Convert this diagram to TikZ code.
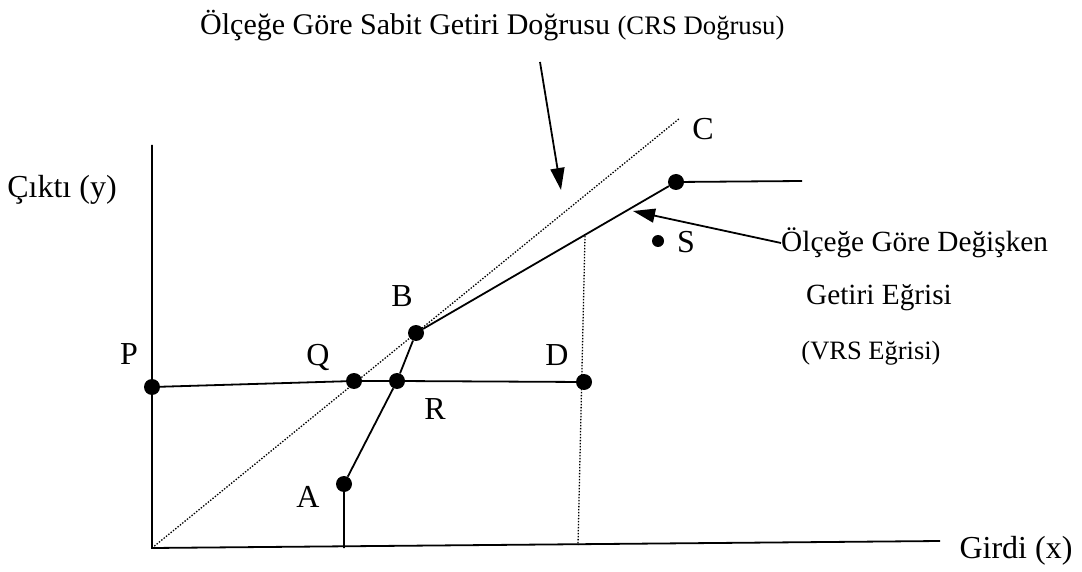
\documentclass[tikz,border=0pt]{standalone}
\usepackage{fontspec}
\setmainfont{Liberation Serif}
\usetikzlibrary{arrows.meta}
\begin{document}
\begin{tikzpicture}[x=1pt,y=-1pt,
  dot/.style={circle,fill=black,inner sep=0pt,minimum size=16pt},
  smalldot/.style={circle,fill=black,inner sep=0pt,minimum size=12pt},
  lbl/.style={inner sep=0pt,font=\fontsize{32}{38}\selectfont},
  mid/.style={inner sep=0pt,font=\fontsize{29.3}{35}\selectfont},
  small/.style={inner sep=0pt,font=\fontsize{26.5}{31}\selectfont},
  solidline/.style={line width=1.8pt},
  dotline/.style={line width=1.3pt,dash pattern=on 1.4pt off 1.6pt},
  arr/.style={line width=1.8pt,-{Triangle[length=22pt,width=14pt]}}]
\useasboundingbox (0,0) rectangle (1082,572);
% axes
\coordinate (O) at (152,548);
\coordinate (Ytop) at (152,145);
\coordinate (Xend) at (940,541);
\draw[solidline] (Ytop) -- (O) -- (Xend);
% points
\node[dot] (P) at (152,387) {};
\node[dot] (Q) at (354,381) {};
\node[dot] (R) at (397,381) {};
\node[dot] (D) at (584,382) {};
\node[dot] (B) at (416,333) {};
\node[dot] (A) at (344,484) {};
\node[dot] (C) at (676,182) {};
\node[smalldot] (S) at (658,241) {};
\coordinate (Abot) at (344,548);
\coordinate (Cend) at (802,181);
\coordinate (CRSend) at (680,118);
\coordinate (Vtop) at (585,236);
\coordinate (Vbot) at (578,545);
% CRS line
\draw[dotline] (O) -- (CRSend);
% vertical dotted
\draw[dotline] (Vtop) -- (Vbot);
% VRS frontier
\draw[solidline] (Abot) -- (A) -- (R) -- (B) -- (C) -- (Cend);
\draw[solidline] (P) -- (Q) -- (R) -- (D);
% labels
\node[lbl] (ly) at (62,190) {Çıktı (y)};
\node[lbl] (lx) at (1016,551) {Girdi (x)};
\node[lbl] (lP) at (129,354) {P};
\node[lbl] (lQ) at (318,357) {Q};
\node[lbl] (lB) at (402,296) {B};
\node[lbl] (lD) at (557,355) {D};
\node[lbl] (lR) at (435,409) {R};
\node[lbl] (lA) at (308,497) {A};
\node[lbl] (lC) at (703,129) {C};
\node[lbl] (lS) at (686,242) {S};
\node[mid,anchor=west] (vrs1) at (781,243) {Ölçeğe Göre Değişken};
\node[mid] (vrs2) at (879,298) {Getiri Eğrisi};
\node[small] (vrs3) at (871,353) {(VRS Eğrisi)};
\node[anchor=base west,inner sep=0pt] (title) at (200,35) {\fontsize{30}{36}\selectfont Ölçeğe Göre Sabit Getiri Doğrusu {\fontsize{26.7}{32}\selectfont (CRS Doğrusu)}};
% arrows
\coordinate (a1s) at (540,62);
\coordinate (a1e) at (561,190);
\draw[arr] (a1s) -- (a1e);
\coordinate (a2e) at (633,211);
\draw[arr] (vrs1.west) -- (a2e);
\end{tikzpicture}
\end{document}
